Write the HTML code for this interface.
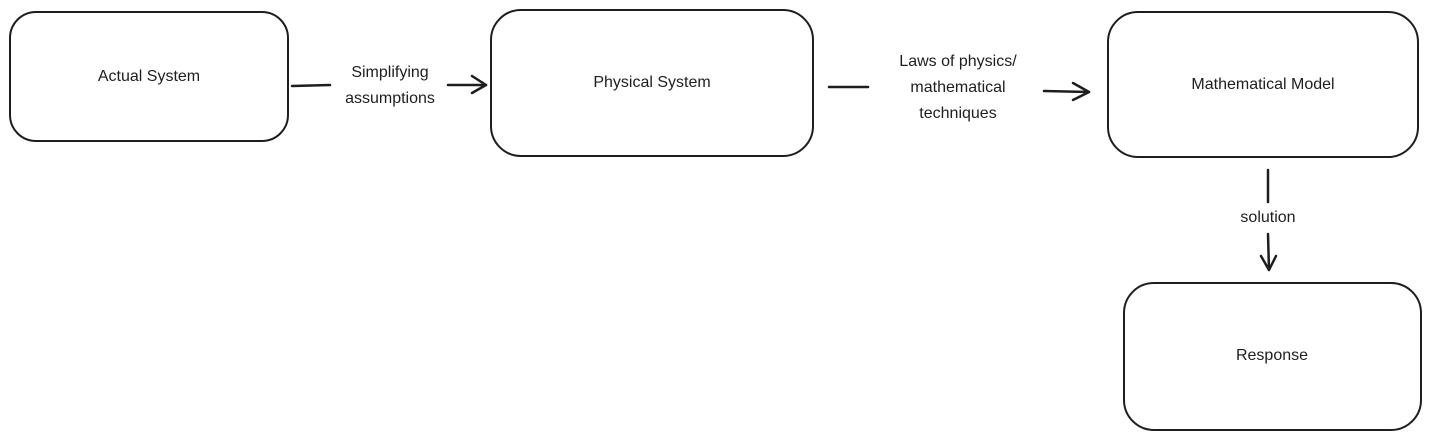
<!DOCTYPE html>
<html><head><meta charset="utf-8"><style>
html,body{margin:0;padding:0;background:#fff;}
svg{display:block;}
text{font-family:"Liberation Sans",sans-serif;font-size:16px;fill:#1e1e1e;text-anchor:middle;dominant-baseline:middle;}
</style></head><body>
<svg width="1431" height="439" viewBox="0 0 1431 439" xmlns="http://www.w3.org/2000/svg">
<g fill="none" stroke="#1e1e1e" stroke-width="2" stroke-linecap="round" stroke-linejoin="round">
<rect x="10" y="12" width="278" height="129" rx="26"/>
<rect x="491" y="10" width="322" height="146" rx="30"/>
<rect x="1108" y="12" width="310" height="145" rx="30"/>
<rect x="1124" y="283" width="297" height="147" rx="30"/>
<line x1="292" y1="86" x2="330" y2="85" stroke-width="2.5"/>
<line x1="448" y1="85" x2="486" y2="85" stroke-width="2.5"/>
<polyline points="472,76 486,85 472,93" stroke-width="2.5"/>
<line x1="829" y1="87" x2="868" y2="87" stroke-width="2.5"/>
<line x1="1044" y1="91" x2="1089" y2="92" stroke-width="2.5"/>
<polyline points="1073,83 1089,92 1073,100" stroke-width="2.5"/>
<line x1="1268" y1="170" x2="1268" y2="202" stroke-width="2.5"/>
<line x1="1268" y1="234" x2="1269" y2="270" stroke-width="2.5"/>
<polyline points="1261,256 1269,270 1276,256" stroke-width="2.5"/>
</g>
<text x="149" y="77">Actual System</text>
<text x="652" y="83">Physical System</text>
<text x="1263" y="85">Mathematical Model</text>
<text x="1272" y="356">Response</text>
<text x="390" y="73">Simplifying</text>
<text x="390" y="99">assumptions</text>
<text x="958" y="62">Laws of physics/</text>
<text x="958" y="88">mathematical</text>
<text x="958" y="114">techniques</text>
<text x="1268" y="218">solution</text>
</svg>
</body></html>
